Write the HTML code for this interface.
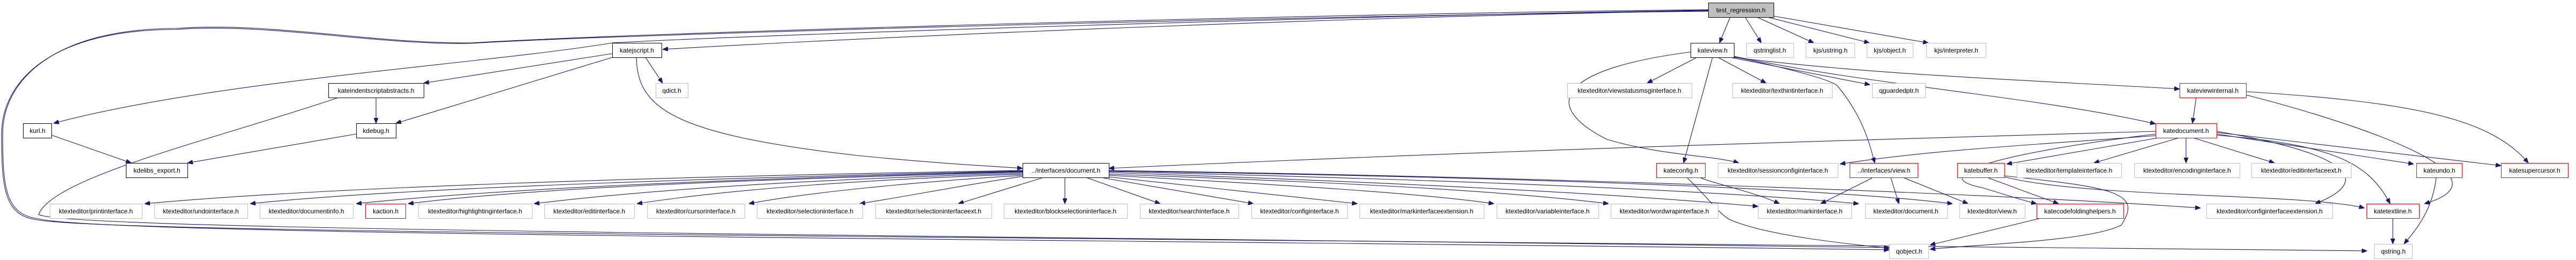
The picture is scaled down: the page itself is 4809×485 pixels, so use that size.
<!DOCTYPE html>
<html><head><meta charset="utf-8">
<style>
html,body{margin:0;padding:0;background:#fff;}
svg{display:block;}
text{font-family:"Liberation Sans",sans-serif;font-size:12px;fill:#000;}
.e{fill:none;stroke:#191970;stroke-width:1.1;}
.g{fill:#fff;stroke:#bfbfbf;stroke-width:1;}
.b{fill:#fff;stroke:#000;stroke-width:1;}
.r{fill:#fff;stroke:#ff0000;stroke-width:1;}
.root{fill:#bfbfbf;stroke:#000;stroke-width:1;}
.sg{stroke:#d0d0d0;stroke-width:2;}
.sb{stroke:#444;stroke-width:2;}
</style></head>
<body>
<svg width="4809" height="485" viewBox="0 0 4809 485" xmlns="http://www.w3.org/2000/svg">
<defs>
<marker id="a" markerWidth="10" markerHeight="8" refX="10" refY="4" orient="auto" markerUnits="userSpaceOnUse">
<path d="M0,0 L10,4 L0,8 z" fill="#191970" stroke="#191970"/>
</marker>
</defs>
<g class="e" marker-end="url(#a)">
<path d="M3230,32 L3210,80"/>
<path d="M3258,32 L3288,80"/>
<path d="M3280,32 L3386,80"/>
<path d="M3300,32 L3490,80"/>
<path d="M3311,30 L3600,80"/>
<path d="M3189,20 C2600,30 1800,60 1237,92"/>
<path d="M3189,19 C2500,30 1400,65 1143,80 C900,120 400,150 100,230"/>
<path d="M3189,18 C2500,25 1200,60 880,80 C700,82 500,40 330,53 C100,53 5,150 5,250 C5,350 10,400 71,408 C200,440 2000,445 3527,466"/>
<path d="M3189,21 C2500,28 1200,62 875,81 C700,84 500,42 328,55 C98,55 3,150 3,250 C3,352 8,402 69,410 C200,436 2000,442 4419,468"/>
<path d="M1143,100 L791,155"/>
<path d="M1143,107 L739,230"/>
<path d="M1205,107 L1237,155"/>
<path d="M1188,107 C1190,200 1250,250 1600,290 C1750,305 1850,310 1909,314"/>
<path d="M702,182 L702,230"/>
<path d="M632,182 C400,260 100,330 72,400 C120,432 2000,440 3527,462"/>
<path d="M96,252 L245,304"/>
<path d="M665,250 L350,304"/>
<!-- document.h fan -->
<path d="M1909,318 C1200,330 600,350 270,380"/>
<path d="M1909,319 C1200,335 700,355 467,380"/>
<path d="M1909,320 C1300,335 900,355 665,380"/>
<path d="M1909,321 C1400,335 1000,350 762,380"/>
<path d="M1909,323 C1500,335 1200,355 997,380"/>
<path d="M1909,325 C1600,335 1350,355 1189,380"/>
<path d="M1909,327 C1700,340 1500,360 1398,380"/>
<path d="M1909,329 C1800,345 1700,365 1605,380"/>
<path d="M1945,332 L1789,380"/>
<path d="M1988,332 L1988,380"/>
<path d="M2030,332 L2166,380"/>
<path d="M2060,332 L2340,380"/>
<path d="M2070,330 L2534,380"/>
<path d="M2070,327 C2400,345 2650,360 2789,380"/>
<path d="M2070,325 C2500,340 2800,355 3003,380"/>
<path d="M2070,322 C2600,340 3000,360 3282,385"/>
<path d="M2070,320 C2700,335 3200,355 3470,380"/>
<path d="M2070,319 C2800,330 3400,350 3645,380"/>
<path d="M2070,318 C2900,330 3700,360 4108,388"/>
<!-- kateview -->
<path d="M3168,107 L3075,155"/>
<path d="M3197,107 L3143,304"/>
<path d="M3207,107 L3297,155"/>
<path d="M3230,107 L3491,158"/>
<path d="M3237,107 C3500,140 3800,150 4069,166"/>
<path d="M3237,105 C3500,160 3800,180 4024,231"/>
<path d="M3237,106 C3350,130 3420,150 3430,160 C3480,220 3490,270 3500,304"/>
<path d="M3156,97 C2900,130 2880,200 3000,260 C3100,290 3200,290 3246,304"/>
<path d="M3175,332 C3210,345 3280,360 3322,380"/>
<path d="M3150,332 C3190,370 3210,400 3230,410 C3300,440 3450,455 3527,463"/>
<!-- katedocument -->
<path d="M4024,245 C3500,260 2800,280 2070,314"/>
<path d="M4024,253 C3800,270 3600,280 3435,306"/>
<path d="M4030,257 L3746,306"/>
<path d="M4068,257 L3909,304"/>
<path d="M4081,257 L4081,304"/>
<path d="M4094,257 L4246,304"/>
<path d="M4138,250 L4506,306"/>
<path d="M4138,247 L4669,309"/>
<path d="M4024,250 C3700,290 3600,330 3700,350 C3750,365 3780,375 3802,380"/>
<path d="M4138,245 C4350,280 4450,330 4322,380"/>
<path d="M4138,252 C4350,270 4420,300 4462,380"/>
<path d="M4100,182 L4093,230"/>
<path d="M4193,171 C4500,190 4650,220 4720,304"/>
<path d="M4193,177 C4400,230 4700,330 4526,380"/>
<path d="M3495,332 L3399,380"/>
<path d="M3530,332 L3545,380"/>
<path d="M3555,332 L3674,380"/>
<path d="M3712,332 L3843,380"/>
<path d="M3742,330 C3900,370 4300,360 4414,388"/>
<path d="M3742,328 C3950,350 4000,360 3960,420 C3900,450 3700,455 3603,465"/>
<path d="M3810,407 L3603,457"/>
<path d="M4467,407 L4467,455"/>
<path d="M4548,332 C4540,400 4500,440 4488,455"/>
</g>
<g text-anchor="middle">
<rect class="root" x="3189.5" y="5.5" width="122" height="27"/><text x="3250" y="23">test_regression.h</text>
<rect class="b" x="1143.5" y="80.5" width="92" height="27"/><text x="1189" y="98">katejscript.h</text>
<rect class="b" x="3156.5" y="80.5" width="81" height="27"/><text x="3197" y="98">kateview.h</text>
<rect class="g" x="3260.5" y="80.5" width="88" height="27"/><text x="3304" y="98">qstringlist.h</text>
<rect class="g" x="3371.5" y="80.5" width="91" height="27"/><text x="3417" y="98">kjs/ustring.h</text>
<rect class="g" x="3485.5" y="80.5" width="86" height="27"/><text x="3528" y="98">kjs/object.h</text>
<rect class="g" x="3596.5" y="80.5" width="111" height="27"/><text x="3652" y="98">kjs/interpreter.h</text>
<rect class="b" x="613.5" y="155.5" width="178" height="27"/><text x="702" y="173">kateindentscriptabstracts.h</text>
<rect class="g" x="1224.5" y="155.5" width="60" height="27"/><text x="1254" y="173">qdict.h</text>
<rect class="g" x="2926.5" y="155.5" width="232" height="27"/><text x="3042" y="173">ktexteditor/viewstatusmsginterface.h</text>
<rect class="g" x="3234.5" y="155.5" width="186" height="27"/><text x="3327" y="173">ktexteditor/texthintinterface.h</text>
<rect class="g" x="3495.5" y="155.5" width="99" height="27"/><text x="3545" y="173">qguardedptr.h</text>
<rect class="r" x="4069.5" y="155.5" width="124" height="27"/><text x="4131" y="173">kateviewinternal.h</text>
<rect class="b" x="43.5" y="230.5" width="53" height="27"/><text x="70" y="248">kurl.h</text>
<rect class="b" x="665.5" y="230.5" width="74" height="27"/><text x="702" y="248">kdebug.h</text>
<rect class="r" x="4024.5" y="230.5" width="114" height="27"/><text x="4081" y="248">katedocument.h</text>
<rect class="b" x="235.5" y="304.5" width="115" height="27"/><text x="293" y="322">kdelibs_export.h</text>
<rect class="b" x="1909.5" y="304.5" width="161" height="27"/><text x="1990" y="322">../interfaces/document.h</text>
<rect class="r" x="3092.5" y="304.5" width="91" height="27"/><text x="3138" y="322">kateconfig.h</text>
<rect class="g" x="3207.5" y="304.5" width="224" height="27"/><text x="3319" y="322">ktexteditor/sessionconfiginterface.h</text>
<rect class="r" x="3453.5" y="304.5" width="127" height="27"/><text x="3517" y="322">../interfaces/view.h</text>
<rect class="r" x="3654.5" y="304.5" width="88" height="27"/><text x="3698" y="322">katebuffer.h</text>
<rect class="g" x="3765.5" y="304.5" width="195" height="27"/><text x="3863" y="322">ktexteditor/templateinterface.h</text>
<rect class="g" x="3984.5" y="304.5" width="197" height="27"/><text x="4083" y="322">ktexteditor/encodinginterface.h</text>
<rect class="g" x="4203.5" y="304.5" width="186" height="27"/><text x="4296" y="322">ktexteditor/editinterfaceext.h</text>
<rect class="r" x="4511.5" y="304.5" width="85" height="27"/><text x="4554" y="322">kateundo.h</text>
<rect class="r" x="4669.5" y="304.5" width="125" height="27"/><text x="4732" y="322">katesupercursor.h</text>
<rect class="g" x="93.5" y="380.5" width="172" height="27"/><text x="179" y="398">ktexteditor/printinterface.h</text>
<rect class="g" x="288.5" y="380.5" width="174" height="27"/><text x="375" y="398">ktexteditor/undointerface.h</text>
<rect class="g" x="485.5" y="380.5" width="174" height="27"/><text x="572" y="398">ktexteditor/documentinfo.h</text>
<rect class="r" x="682.5" y="380.5" width="75" height="27"/><text x="720" y="398">kaction.h</text>
<rect class="g" x="781.5" y="380.5" width="212" height="27"/><text x="887" y="398">ktexteditor/highlightinginterface.h</text>
<rect class="g" x="1016.5" y="380.5" width="168" height="27"/><text x="1100" y="398">ktexteditor/editinterface.h</text>
<rect class="g" x="1208.5" y="380.5" width="182" height="27"/><text x="1299" y="398">ktexteditor/cursorinterface.h</text>
<rect class="g" x="1413.5" y="380.5" width="197" height="27"/><text x="1512" y="398">ktexteditor/selectioninterface.h</text>
<rect class="g" x="1634.5" y="380.5" width="217" height="27"/><text x="1743" y="398">ktexteditor/selectioninterfaceext.h</text>
<rect class="g" x="1874.5" y="380.5" width="230" height="27"/><text x="1989" y="398">ktexteditor/blockselectioninterface.h</text>
<rect class="g" x="2128.5" y="380.5" width="184" height="27"/><text x="2220" y="398">ktexteditor/searchinterface.h</text>
<rect class="g" x="2336.5" y="380.5" width="179" height="27"/><text x="2426" y="398">ktexteditor/configinterface.h</text>
<rect class="g" x="2538.5" y="380.5" width="232" height="27"/><text x="2654" y="398">ktexteditor/markinterfaceextension.h</text>
<rect class="g" x="2794.5" y="380.5" width="190" height="27"/><text x="2889" y="398">ktexteditor/variableinterface.h</text>
<rect class="g" x="3007.5" y="380.5" width="200" height="27"/><text x="3107" y="398">ktexteditor/wordwrapinterface.h</text>
<rect class="g" x="3282.5" y="380.5" width="174" height="27"/><text x="3369" y="398">ktexteditor/markinterface.h</text>
<rect class="g" x="3482.5" y="380.5" width="153" height="27"/><text x="3558" y="398">ktexteditor/document.h</text>
<rect class="g" x="3658.5" y="380.5" width="122" height="27"/><text x="3719" y="398">ktexteditor/view.h</text>
<rect class="r" x="3802.5" y="380.5" width="162" height="27"/><text x="3883" y="398">katecodefoldinghelpers.h</text>
<rect class="g" x="4119.5" y="380.5" width="235" height="27"/><text x="4237" y="398">ktexteditor/configinterfaceextension.h</text>
<rect class="r" x="4418.5" y="380.5" width="98" height="27"/><text x="4467" y="398">katetextline.h</text>
<rect class="g" x="3527.5" y="455.5" width="73" height="27"/><text x="3564" y="473">qobject.h</text>
<rect class="g" x="4432.5" y="455.5" width="71" height="27"/><text x="4468" y="473">qstring.h</text>
</g>
</svg>
</body></html>
